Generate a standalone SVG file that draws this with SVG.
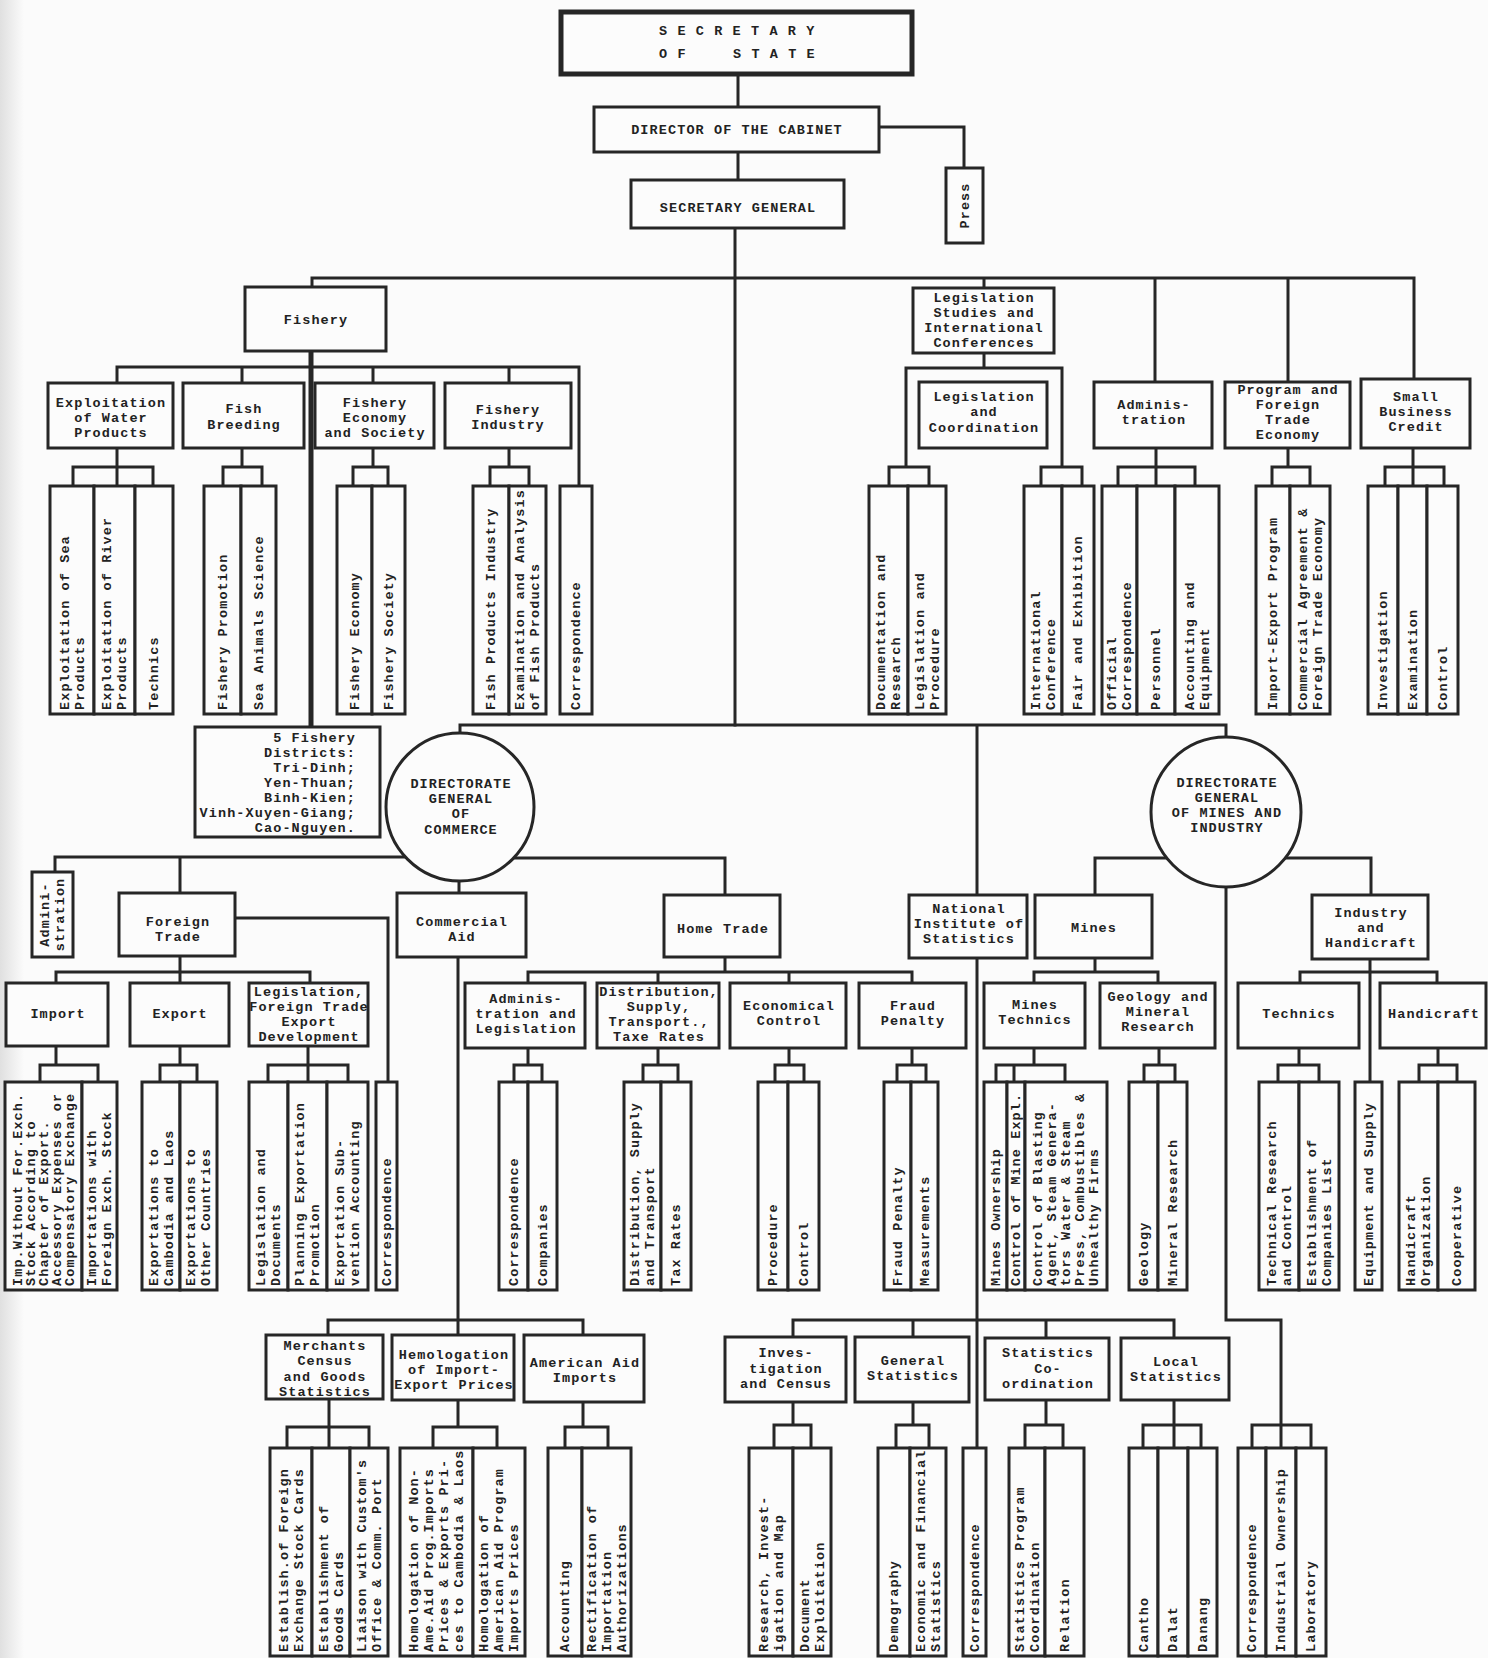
<svg xmlns="http://www.w3.org/2000/svg" width="1488" height="1658" viewBox="0 0 1488 1658">
<defs>
<linearGradient id="edge" x1="0" x2="1" y1="0" y2="0"><stop offset="0" stop-color="#e0e0e0"/><stop offset="1" stop-color="#fbfbfb"/></linearGradient>
<style>
.b{fill:#fcfcfc;stroke:#262626;stroke-width:3}
.l{fill:none;stroke:#262626;stroke-width:3;stroke-linecap:square}
.k{fill:none;stroke:#262626;stroke-width:5}
.t{font-family:"Liberation Mono","DejaVu Sans Mono",monospace;font-size:13.5px;font-weight:bold;letter-spacing:1.1px;fill:#222}
.m{text-anchor:middle}
</style>
</defs>
<rect x="0" y="0" width="1488" height="1658" fill="#fbfbfb"/>
<rect x="0" y="0" width="24" height="1658" fill="url(#edge)"/>

<g id="connectors">
<path class="l" d="M738 74V107M738 152V180M879 127H964V168M735 228V725M312 287V278H1414V379M984 278V288M1155 278V382M1288 278V382"/>
<path class="k" d="M311 351V727"/>
<path class="l" d="M117 383V367H579V486M242 367V383M373 367V383M509 367V383"/>
<path class="l" d="M117 448V486M73 486V467H153V486M242 448V467M223 486V467H262V486M373 448V467M353 486V467H388V486M509 448V467M490 486V467H529V486"/>
<path class="l" d="M984 353V368M906 467V368H1062V467M889 486V467H929V486M1041 486V467H1082V486"/>
<path class="l" d="M1156 448V486M1118 486V467H1195V486M1288 448V467M1272 486V467H1310V486M1413 448V486M1385 486V467H1444V486"/>
<path class="l" d="M460 733V725H1226V737M977 725V895"/>
<path class="l" d="M406 857H55V872M180 857V893M515 858H725V895M459 881V893M458 957V1335"/>
<path class="l" d="M235 918H388V1082M180 956V972M56 983V972H310V983M180 972V983"/>
<path class="l" d="M56 1046V1065M40 1082V1065H98V1082M180 1046V1065M160 1082V1065H197V1082M308 1046V1082M268 1082V1065H348V1082"/>
<path class="l" d="M725 957V972M528 983V972H912V983M658 972V983M789 972V983"/>
<path class="l" d="M528 1048V1065M514 1082V1065H542V1082M658 1048V1065M643 1082V1065H678V1082M789 1048V1065M775 1082V1065H804V1082M912 1048V1065M897 1082V1065H926V1082"/>
<path class="l" d="M977 958V1447"/>
<path class="l" d="M1167 858H1095V895M1285 858H1371V895M1226 887V1320H1281V1447"/>
<path class="l" d="M1095 958V972M1034 983V972H1158V983M1034 1048V1065M996 1082V1065H1065V1082M1014 1065V1082M1159 1048V1065M1144 1082V1065H1175V1082"/>
<path class="l" d="M1370 959V1082M1300 983V972H1437V983M1299 1048V1065M1278 1082V1065H1319V1082M1438 1048V1065M1419 1082V1065H1457V1082"/>
<path class="l" d="M328 1335V1320H583V1335M329 1399V1448M287 1448V1427H369V1448M458 1400V1427M433 1448V1427H497V1448M583 1402V1427M565 1448V1427H608V1448"/>
<path class="l" d="M793 1337V1320H1174V1338M913 1320V1337M1046 1320V1338M793 1402V1425M774 1448V1425H811V1448M913 1402V1425M896 1448V1425H929V1448M1046 1400V1425M1025 1448V1425H1063V1448M1174 1400V1448M1143 1448V1425H1201V1448M1252 1448V1425H1311V1448"/>
</g>

<g id="secretary-of-state"><rect class="b" x="561" y="12" width="351" height="62" style="stroke-width:5"/><text class="t"><tspan x="659" y="35">S E C R E T A R Y</tspan><tspan x="659" y="58">O F</tspan><tspan x="733" y="58">S T A T E</tspan></text></g>
<g id="director-cabinet"><rect class="b" x="594" y="107" width="285" height="45"/><text class="t m" x="737" y="134">DIRECTOR OF THE CABINET</text></g>
<g id="press"><rect class="b" x="946" y="168" width="37" height="75"/><text class="t m" transform="translate(0,205.5) rotate(-90)" x="0" y="968.5">Press</text></g>
<g id="secretary-general"><rect class="b" x="631" y="180" width="213" height="48"/><text class="t m" x="738" y="212">SECRETARY GENERAL</text></g>

<g id="fishery"><rect class="b" x="245" y="287" width="141" height="64"/><text class="t m" x="316" y="324">Fishery</text></g>
<g id="expl-water"><rect class="b" x="48" y="383" width="125" height="65"/><text class="t m"><tspan x="111" y="407">Exploitation</tspan><tspan x="111" y="422">of Water</tspan><tspan x="111" y="437">Products</tspan></text></g>
<g id="fish-breeding"><rect class="b" x="183" y="383" width="121" height="65"/><text class="t m"><tspan x="244" y="413">Fish</tspan><tspan x="244" y="429">Breeding</tspan></text></g>
<g id="fishery-economy"><rect class="b" x="315" y="383" width="119" height="65"/><text class="t m"><tspan x="375" y="407">Fishery</tspan><tspan x="375" y="422">Economy</tspan><tspan x="375" y="437">and  Society</tspan></text></g>
<g id="fishery-industry"><rect class="b" x="445" y="383" width="126" height="65"/><text class="t m"><tspan x="508" y="414">Fishery</tspan><tspan x="508" y="429">Industry</tspan></text></g>

<g id="c-expl-sea"><rect class="b" x="50" y="486" width="44" height="228"/><text class="t" transform="translate(0,710) rotate(-90)"><tspan x="0" y="68.5">Exploitation of Sea</tspan><tspan x="0" y="83.5">Products</tspan></text></g>
<g id="c-expl-river"><rect class="b" x="94" y="486" width="41" height="228"/><text class="t" transform="translate(0,710) rotate(-90)"><tspan x="0" y="111">Exploitation of River</tspan><tspan x="0" y="126">Products</tspan></text></g>
<g id="c-technics1"><rect class="b" x="135" y="486" width="38" height="228"/><text class="t" transform="translate(0,710) rotate(-90)" x="0" y="158">Technics</text></g>
<g id="c-fish-promo"><rect class="b" x="204" y="486" width="37" height="228"/><text class="t" transform="translate(0,710) rotate(-90)" x="0" y="226.5">Fishery Promotion</text></g>
<g id="c-sea-animals"><rect class="b" x="241" y="486" width="35" height="228"/><text class="t" transform="translate(0,710) rotate(-90)" x="0" y="262.5">Sea Animals Science</text></g>
<g id="c-fish-economy"><rect class="b" x="337" y="486" width="35" height="228"/><text class="t" transform="translate(0,710) rotate(-90)" x="0" y="358.5">Fishery Economy</text></g>
<g id="c-fish-society"><rect class="b" x="372" y="486" width="33" height="228"/><text class="t" transform="translate(0,710) rotate(-90)" x="0" y="392.5">Fishery Society</text></g>
<g id="c-fish-products"><rect class="b" x="473" y="486" width="36" height="228"/><text class="t" transform="translate(0,710) rotate(-90)" x="0" y="495">Fish Products Industry</text></g>
<g id="c-exam-analysis"><rect class="b" x="509" y="486" width="37" height="228"/><text class="t" transform="translate(0,710) rotate(-90)"><tspan x="0" y="524">Examination and Analysis</tspan><tspan x="0" y="539">of Fish Products</tspan></text></g>
<g id="c-fish-corr"><rect class="b" x="560" y="486" width="32" height="228"/><text class="t" transform="translate(0,710) rotate(-90)" x="0" y="580">Correspondence</text></g>
<g id="fishery-districts"><rect class="b" x="195" y="727" width="185" height="110"/><text class="t" text-anchor="end"><tspan x="356" y="742">5 Fishery</tspan><tspan x="356" y="757">Districts:</tspan><tspan x="356" y="772">Tri-Dinh;</tspan><tspan x="356" y="787">Yen-Thuan;</tspan><tspan x="356" y="802">Binh-Kien;</tspan><tspan x="356" y="817">Vinh-Xuyen-Giang;</tspan><tspan x="356" y="832">Cao-Nguyen.</tspan></text></g>

<g id="legislation-studies"><rect class="b" x="913" y="288" width="141" height="65"/><text class="t m"><tspan x="984" y="302">Legislation</tspan><tspan x="984" y="317">Studies and</tspan><tspan x="984" y="332">International</tspan><tspan x="984" y="347">Conferences</tspan></text></g>
<g id="legislation-coordination"><rect class="b" x="919" y="382" width="128" height="66"/><text class="t m"><tspan x="984" y="401">Legislation</tspan><tspan x="984" y="416">and</tspan><tspan x="984" y="432">Coordination</tspan></text></g>
<g id="administration1"><rect class="b" x="1094" y="382" width="118" height="66"/><text class="t m"><tspan x="1154" y="409">Adminis-</tspan><tspan x="1154" y="424">tration</tspan></text></g>
<g id="program-foreign"><rect class="b" x="1225" y="382" width="125" height="66"/><text class="t m"><tspan x="1288" y="394">Program  and</tspan><tspan x="1288" y="409">Foreign</tspan><tspan x="1288" y="424">Trade</tspan><tspan x="1288" y="439">Economy</tspan></text></g>
<g id="small-business"><rect class="b" x="1361" y="379" width="109" height="69"/><text class="t m"><tspan x="1416" y="401">Small</tspan><tspan x="1416" y="416">Business</tspan><tspan x="1416" y="431">Credit</tspan></text></g>

<g id="c-documentation"><rect class="b" x="869" y="486" width="39" height="228"/><text class="t" transform="translate(0,710) rotate(-90)"><tspan x="0" y="885">Documentation and</tspan><tspan x="0" y="900">Research</tspan></text></g>
<g id="c-leg-procedure"><rect class="b" x="908" y="486" width="38" height="228"/><text class="t" transform="translate(0,710) rotate(-90)"><tspan x="0" y="923.5">Legislation and</tspan><tspan x="0" y="938.5">Procedure</tspan></text></g>
<g id="c-intl-conf"><rect class="b" x="1024" y="486" width="38" height="228"/><text class="t" transform="translate(0,710) rotate(-90)"><tspan x="0" y="1039.5">International</tspan><tspan x="0" y="1054.5">Conference</tspan></text></g>
<g id="c-fair"><rect class="b" x="1062" y="486" width="32" height="228"/><text class="t" transform="translate(0,710) rotate(-90)" x="0" y="1082">Fair and Exhibition</text></g>
<g id="c-official-corr"><rect class="b" x="1102" y="486" width="35" height="228"/><text class="t" transform="translate(0,710) rotate(-90)"><tspan x="0" y="1116">Official</tspan><tspan x="0" y="1131">Correspondence</tspan></text></g>
<g id="c-personnel"><rect class="b" x="1137" y="486" width="38" height="228"/><text class="t" transform="translate(0,710) rotate(-90)" x="0" y="1160">Personnel</text></g>
<g id="c-accounting-eq"><rect class="b" x="1175" y="486" width="44" height="228"/><text class="t" transform="translate(0,710) rotate(-90)"><tspan x="0" y="1193.5">Accounting and</tspan><tspan x="0" y="1208.5">Equipment</tspan></text></g>
<g id="c-import-export-prog"><rect class="b" x="1256" y="486" width="34" height="228"/><text class="t" transform="translate(0,710) rotate(-90)" x="0" y="1277">Import-Export Program</text></g>
<g id="c-commercial-agreement"><rect class="b" x="1290" y="486" width="40" height="228"/><text class="t" transform="translate(0,710) rotate(-90)"><tspan x="0" y="1306.5">Commercial Agreement &amp;</tspan><tspan x="0" y="1321.5">Foreign Trade Economy</tspan></text></g>
<g id="c-investigation"><rect class="b" x="1368" y="486" width="30" height="228"/><text class="t" transform="translate(0,710) rotate(-90)" x="0" y="1387">Investigation</text></g>
<g id="c-examination"><rect class="b" x="1398" y="486" width="29" height="228"/><text class="t" transform="translate(0,710) rotate(-90)" x="0" y="1416.5">Examination</text></g>
<g id="c-control1"><rect class="b" x="1427" y="486" width="31" height="228"/><text class="t" transform="translate(0,710) rotate(-90)" x="0" y="1446.5">Control</text></g>

<g id="dg-commerce"><circle class="b" cx="460" cy="807" r="74"/><text class="t m"><tspan x="461" y="788">DIRECTORATE</tspan><tspan x="461" y="803">GENERAL</tspan><tspan x="461" y="818">OF</tspan><tspan x="461" y="834">COMMERCE</tspan></text></g>
<g id="dg-mines"><circle class="b" cx="1226" cy="812" r="75"/><text class="t m"><tspan x="1227" y="787">DIRECTORATE</tspan><tspan x="1227" y="802">GENERAL</tspan><tspan x="1227" y="817">OF MINES  AND</tspan><tspan x="1227" y="832">INDUSTRY</tspan></text></g>

<g id="administration2"><rect class="b" x="32" y="872" width="41" height="85"/><text class="t m" transform="translate(0,914.5) rotate(-90)"><tspan x="0" y="49">Admini-</tspan><tspan x="0" y="64">stration</tspan></text></g>
<g id="foreign-trade"><rect class="b" x="119" y="893" width="116" height="63"/><text class="t m"><tspan x="178" y="926">Foreign</tspan><tspan x="178" y="941">Trade</tspan></text></g>
<g id="commercial-aid"><rect class="b" x="397" y="893" width="129" height="64"/><text class="t m"><tspan x="462" y="926">Commercial</tspan><tspan x="462" y="941">Aid</tspan></text></g>
<g id="home-trade"><rect class="b" x="664" y="895" width="116" height="62"/><text class="t m" x="723" y="933">Home Trade</text></g>
<g id="national-institute"><rect class="b" x="909" y="895" width="118" height="63"/><text class="t m"><tspan x="969" y="913">National</tspan><tspan x="969" y="928">Institute of</tspan><tspan x="969" y="943">Statistics</tspan></text></g>
<g id="mines"><rect class="b" x="1035" y="895" width="117" height="63"/><text class="t m" x="1094" y="932">Mines</text></g>
<g id="industry-handicraft"><rect class="b" x="1312" y="895" width="116" height="64"/><text class="t m"><tspan x="1371" y="917">Industry</tspan><tspan x="1371" y="932">and</tspan><tspan x="1371" y="947">Handicraft</tspan></text></g>

<g id="import"><rect class="b" x="6" y="983" width="102" height="63"/><text class="t m" x="58" y="1018">Import</text></g>
<g id="export"><rect class="b" x="130" y="983" width="99" height="63"/><text class="t m" x="180" y="1018">Export</text></g>
<g id="legislation-ft"><rect class="b" x="249" y="983" width="119" height="63"/><text class="t m"><tspan x="309" y="996">Legislation,</tspan><tspan x="309" y="1011">Foreign Trade</tspan><tspan x="309" y="1026">Export</tspan><tspan x="309" y="1041">Development</tspan></text></g>
<g id="admin-legislation"><rect class="b" x="465" y="983" width="120" height="65"/><text class="t m"><tspan x="526" y="1003">Adminis-</tspan><tspan x="526" y="1018">tration  and</tspan><tspan x="526" y="1033">Legislation</tspan></text></g>
<g id="distribution"><rect class="b" x="597" y="983" width="122" height="65"/><text class="t m"><tspan x="659" y="996">Distribution,</tspan><tspan x="659" y="1011">Supply,</tspan><tspan x="659" y="1026">Transport.,</tspan><tspan x="659" y="1041">Taxe Rates</tspan></text></g>
<g id="economical-control"><rect class="b" x="730" y="983" width="116" height="65"/><text class="t m"><tspan x="789" y="1010">Economical</tspan><tspan x="789" y="1025">Control</tspan></text></g>
<g id="fraud-penalty"><rect class="b" x="859" y="983" width="107" height="65"/><text class="t m"><tspan x="913" y="1010">Fraud</tspan><tspan x="913" y="1025">Penalty</tspan></text></g>
<g id="mines-technics"><rect class="b" x="984" y="983" width="101" height="65"/><text class="t m"><tspan x="1035" y="1009">Mines</tspan><tspan x="1035" y="1024">Technics</tspan></text></g>
<g id="geology"><rect class="b" x="1100" y="983" width="115" height="65"/><text class="t m"><tspan x="1158" y="1001">Geology and</tspan><tspan x="1158" y="1016">Mineral</tspan><tspan x="1158" y="1031">Research</tspan></text></g>
<g id="technics"><rect class="b" x="1238" y="983" width="121" height="65"/><text class="t m" x="1299" y="1018">Technics</text></g>
<g id="handicraft"><rect class="b" x="1380" y="983" width="106" height="65"/><text class="t m" x="1434" y="1018">Handicraft</text></g>

<g id="c-imp-without"><rect class="b" x="5" y="1082" width="77" height="208"/><text class="t" transform="translate(0,1286) rotate(-90)"><tspan x="0" y="21.5">Imp.Without For.Exch.</tspan><tspan x="0" y="34.5">Stock According to</tspan><tspan x="0" y="47.5">Chapter of Export.</tspan><tspan x="0" y="60.5">Accessory Expenses or</tspan><tspan x="0" y="73.5">Compensatory Exchange</tspan></text></g>
<g id="c-importations"><rect class="b" x="82" y="1082" width="35" height="208"/><text class="t" transform="translate(0,1286) rotate(-90)"><tspan x="0" y="96">Importations with</tspan><tspan x="0" y="111">Foreign Exch. Stock</tspan></text></g>
<g id="c-exp-cambodia"><rect class="b" x="142" y="1082" width="38" height="208"/><text class="t" transform="translate(0,1286) rotate(-90)"><tspan x="0" y="157.5">Exportations to</tspan><tspan x="0" y="172.5">Cambodia and Laos</tspan></text></g>
<g id="c-exp-other"><rect class="b" x="180" y="1082" width="37" height="208"/><text class="t" transform="translate(0,1286) rotate(-90)"><tspan x="0" y="195">Exportations to</tspan><tspan x="0" y="210">Other Countries</tspan></text></g>
<g id="c-leg-documents"><rect class="b" x="249" y="1082" width="39" height="208"/><text class="t" transform="translate(0,1286) rotate(-90)"><tspan x="0" y="265">Legislation and</tspan><tspan x="0" y="280">Documents</tspan></text></g>
<g id="c-planning"><rect class="b" x="288" y="1082" width="39" height="208"/><text class="t" transform="translate(0,1286) rotate(-90)"><tspan x="0" y="304">Planning Exportation</tspan><tspan x="0" y="319">Promotion</tspan></text></g>
<g id="c-subvention"><rect class="b" x="327" y="1082" width="41" height="208"/><text class="t" transform="translate(0,1286) rotate(-90)"><tspan x="0" y="344">Exportation Sub-</tspan><tspan x="0" y="359">vention Accounting</tspan></text></g>
<g id="c-ft-corr"><rect class="b" x="376" y="1082" width="21" height="208"/><text class="t" transform="translate(0,1286) rotate(-90)" x="0" y="390.5">Correspondence</text></g>
<g id="c-ht-corr"><rect class="b" x="499" y="1082" width="29" height="208"/><text class="t" transform="translate(0,1286) rotate(-90)" x="0" y="517.5">Correspondence</text></g>
<g id="c-companies"><rect class="b" x="528" y="1082" width="29" height="208"/><text class="t" transform="translate(0,1286) rotate(-90)" x="0" y="546.5">Companies</text></g>
<g id="c-dist-supply"><rect class="b" x="624" y="1082" width="37" height="208"/><text class="t" transform="translate(0,1286) rotate(-90)"><tspan x="0" y="639">Distribution, Supply</tspan><tspan x="0" y="654">and Transport</tspan></text></g>
<g id="c-tax-rates"><rect class="b" x="661" y="1082" width="30" height="208"/><text class="t" transform="translate(0,1286) rotate(-90)" x="0" y="680">Tax Rates</text></g>
<g id="c-procedure"><rect class="b" x="758" y="1082" width="30" height="208"/><text class="t" transform="translate(0,1286) rotate(-90)" x="0" y="777">Procedure</text></g>
<g id="c-control2"><rect class="b" x="788" y="1082" width="31" height="208"/><text class="t" transform="translate(0,1286) rotate(-90)" x="0" y="807.5">Control</text></g>
<g id="c-fraud-penalty"><rect class="b" x="884" y="1082" width="27" height="208"/><text class="t" transform="translate(0,1286) rotate(-90)" x="0" y="901.5">Fraud Penalty</text></g>
<g id="c-measurements"><rect class="b" x="911" y="1082" width="27" height="208"/><text class="t" transform="translate(0,1286) rotate(-90)" x="0" y="928.5">Measurements</text></g>
<g id="c-mines-ownership"><rect class="b" x="984" y="1082" width="23" height="208"/><text class="t" transform="translate(0,1286) rotate(-90)" x="0" y="999.5">Mines Ownership</text></g>
<g id="c-control-mine"><rect class="b" x="1007" y="1082" width="18" height="208"/><text class="t" transform="translate(0,1286) rotate(-90)" x="0" y="1020">Control of Mine Expl.</text></g>
<g id="c-control-blasting"><rect class="b" x="1025" y="1082" width="82" height="208"/><text class="t" transform="translate(0,1286) rotate(-90)"><tspan x="0" y="1042">Control of Blasting</tspan><tspan x="0" y="1056">Agent, Steam Genera-</tspan><tspan x="0" y="1070">tors Water &amp; Steam</tspan><tspan x="0" y="1084">Press, Combustibles &amp;</tspan><tspan x="0" y="1098">Unhealthy Firms</tspan></text></g>
<g id="c-geology"><rect class="b" x="1129" y="1082" width="29" height="208"/><text class="t" transform="translate(0,1286) rotate(-90)" x="0" y="1147.5">Geology</text></g>
<g id="c-mineral-research"><rect class="b" x="1158" y="1082" width="29" height="208"/><text class="t" transform="translate(0,1286) rotate(-90)" x="0" y="1176.5">Mineral Research</text></g>
<g id="c-tech-research"><rect class="b" x="1259" y="1082" width="40" height="208"/><text class="t" transform="translate(0,1286) rotate(-90)"><tspan x="0" y="1275.5">Technical Research</tspan><tspan x="0" y="1290.5">and Control</tspan></text></g>
<g id="c-establishment"><rect class="b" x="1299" y="1082" width="40" height="208"/><text class="t" transform="translate(0,1286) rotate(-90)"><tspan x="0" y="1315.5">Establishment of</tspan><tspan x="0" y="1330.5">Companies List</tspan></text></g>
<g id="c-equipment"><rect class="b" x="1355" y="1082" width="27" height="208"/><text class="t" transform="translate(0,1286) rotate(-90)" x="0" y="1372.5">Equipment and Supply</text></g>
<g id="c-handicraft-org"><rect class="b" x="1399" y="1082" width="39" height="208"/><text class="t" transform="translate(0,1286) rotate(-90)"><tspan x="0" y="1415">Handicraft</tspan><tspan x="0" y="1430">Organization</tspan></text></g>
<g id="c-cooperative"><rect class="b" x="1438" y="1082" width="37" height="208"/><text class="t" transform="translate(0,1286) rotate(-90)" x="0" y="1460.5">Cooperative</text></g>

<g id="merchants-census"><rect class="b" x="266" y="1335" width="117" height="64"/><text class="t m"><tspan x="325" y="1350">Merchants</tspan><tspan x="325" y="1365">Census</tspan><tspan x="325" y="1381">and Goods</tspan><tspan x="325" y="1396">Statistics</tspan></text></g>
<g id="homologation"><rect class="b" x="392" y="1335" width="122" height="65"/><text class="t m"><tspan x="454" y="1359">Hemologation</tspan><tspan x="454" y="1374">of Import-</tspan><tspan x="454" y="1389">Export Prices</tspan></text></g>
<g id="american-aid"><rect class="b" x="524" y="1335" width="120" height="67"/><text class="t m"><tspan x="585" y="1367">American Aid</tspan><tspan x="585" y="1382">Imports</tspan></text></g>
<g id="investigation-census"><rect class="b" x="725" y="1337" width="121" height="65"/><text class="t m"><tspan x="786" y="1357">Inves-</tspan><tspan x="786" y="1373">tigation</tspan><tspan x="786" y="1388">and Census</tspan></text></g>
<g id="general-statistics"><rect class="b" x="855" y="1337" width="114" height="65"/><text class="t m"><tspan x="913" y="1365">General</tspan><tspan x="913" y="1380">Statistics</tspan></text></g>
<g id="statistics-coordination"><rect class="b" x="985" y="1338" width="124" height="62"/><text class="t m"><tspan x="1048" y="1357">Statistics</tspan><tspan x="1048" y="1373">Co-</tspan><tspan x="1048" y="1388">ordination</tspan></text></g>
<g id="local-statistics"><rect class="b" x="1121" y="1338" width="108" height="62"/><text class="t m"><tspan x="1176" y="1366">Local</tspan><tspan x="1176" y="1381">Statistics</tspan></text></g>

<g id="c-establish-foreign"><rect class="b" x="270" y="1448" width="42" height="208"/><text class="t" transform="translate(0,1652) rotate(-90)"><tspan x="0" y="287.5">Establish.of Foreign</tspan><tspan x="0" y="302.5">Exchange Stock Cards</tspan></text></g>
<g id="c-goods-cards"><rect class="b" x="312" y="1448" width="38" height="208"/><text class="t" transform="translate(0,1652) rotate(-90)"><tspan x="0" y="327.5">Establishment of</tspan><tspan x="0" y="342.5">Goods Cards</tspan></text></g>
<g id="c-liaison"><rect class="b" x="350" y="1448" width="38" height="208"/><text class="t" transform="translate(0,1652) rotate(-90)"><tspan x="0" y="365.5">Liaison with Custom's</tspan><tspan x="0" y="380.5">Office &amp; Comm. Port</tspan></text></g>
<g id="c-homol-non"><rect class="b" x="400" y="1448" width="73" height="208"/><text class="t" transform="translate(0,1652) rotate(-90)"><tspan x="0" y="418">Homologation of Non-</tspan><tspan x="0" y="433">Ame.Aid Prog.Imports</tspan><tspan x="0" y="448">Prices &amp; Exports Pri-</tspan><tspan x="0" y="463">ces to Cambodia &amp; Laos</tspan></text></g>
<g id="c-homol-american"><rect class="b" x="473" y="1448" width="52" height="208"/><text class="t" transform="translate(0,1652) rotate(-90)"><tspan x="0" y="488">Homologation of</tspan><tspan x="0" y="503">American Aid Program</tspan><tspan x="0" y="518">Imports Prices</tspan></text></g>
<g id="c-accounting"><rect class="b" x="548" y="1448" width="34" height="208"/><text class="t" transform="translate(0,1652) rotate(-90)" x="0" y="569">Accounting</text></g>
<g id="c-rectification"><rect class="b" x="582" y="1448" width="49" height="208"/><text class="t" transform="translate(0,1652) rotate(-90)"><tspan x="0" y="595.5">Rectification of</tspan><tspan x="0" y="610.5">Importation</tspan><tspan x="0" y="625.5">Authorizations</tspan></text></g>
<g id="c-research-invest"><rect class="b" x="749" y="1448" width="44" height="208"/><text class="t" transform="translate(0,1652) rotate(-90)"><tspan x="0" y="767.5">Research, Invest-</tspan><tspan x="0" y="782.5">igation and Map</tspan></text></g>
<g id="c-document-expl"><rect class="b" x="793" y="1448" width="38" height="208"/><text class="t" transform="translate(0,1652) rotate(-90)"><tspan x="0" y="808.5">Document</tspan><tspan x="0" y="823.5">Exploitation</tspan></text></g>
<g id="c-demography"><rect class="b" x="878" y="1448" width="32" height="208"/><text class="t" transform="translate(0,1652) rotate(-90)" x="0" y="898">Demography</text></g>
<g id="c-economic-financial"><rect class="b" x="910" y="1448" width="36" height="208"/><text class="t" transform="translate(0,1652) rotate(-90)"><tspan x="0" y="924.5">Economic and Financial</tspan><tspan x="0" y="939.5">Statistics</tspan></text></g>
<g id="c-stat-corr"><rect class="b" x="963" y="1448" width="23" height="208"/><text class="t" transform="translate(0,1652) rotate(-90)" x="0" y="978.5">Correspondence</text></g>
<g id="c-stat-program"><rect class="b" x="1009" y="1448" width="36" height="208"/><text class="t" transform="translate(0,1652) rotate(-90)"><tspan x="0" y="1023.5">Statistics Program</tspan><tspan x="0" y="1038.5">Coordination</tspan></text></g>
<g id="c-relation"><rect class="b" x="1045" y="1448" width="39" height="208"/><text class="t" transform="translate(0,1652) rotate(-90)" x="0" y="1068.5">Relation</text></g>
<g id="c-cantho"><rect class="b" x="1129" y="1448" width="29" height="208"/><text class="t" transform="translate(0,1652) rotate(-90)" x="0" y="1147.5">Cantho</text></g>
<g id="c-dalat"><rect class="b" x="1158" y="1448" width="30" height="208"/><text class="t" transform="translate(0,1652) rotate(-90)" x="0" y="1177">Dalat</text></g>
<g id="c-danang"><rect class="b" x="1188" y="1448" width="29" height="208"/><text class="t" transform="translate(0,1652) rotate(-90)" x="0" y="1206.5">Danang</text></g>
<g id="c-mi-corr"><rect class="b" x="1238" y="1448" width="28" height="208"/><text class="t" transform="translate(0,1652) rotate(-90)" x="0" y="1256">Correspondence</text></g>
<g id="c-industrial-ownership"><rect class="b" x="1266" y="1448" width="30" height="208"/><text class="t" transform="translate(0,1652) rotate(-90)" x="0" y="1285">Industrial Ownership</text></g>
<g id="c-laboratory"><rect class="b" x="1296" y="1448" width="30" height="208"/><text class="t" transform="translate(0,1652) rotate(-90)" x="0" y="1315">Laboratory</text></g>
</svg>
